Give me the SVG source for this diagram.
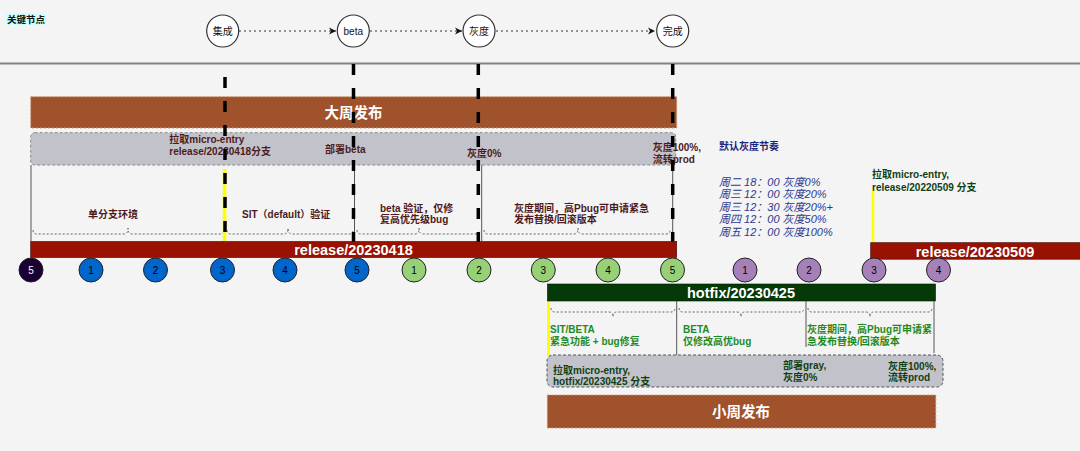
<svg xmlns="http://www.w3.org/2000/svg" width="1080" height="451" viewBox="0 0 1080 451">
<style>
text{font-family:"Liberation Sans","Noto Sans CJK SC",sans-serif}
.lbl{font-size:10px;font-weight:bold}
.mar{fill:#4d1a22}
.grn{fill:#1f8a1f}
.dgrn{fill:#0f3f12}
.wbig{fill:#fff;font-weight:bold;font-size:14.5px;text-anchor:middle}
.num{font-size:10px;text-anchor:middle}
.ital{font-size:11px;font-style:italic;fill:#2a3990}
.dash{stroke:#000;stroke-width:3.5;stroke-dasharray:11 13;fill:none}
.thin{stroke:#555;stroke-width:1;fill:none}
.brace{stroke:#666;stroke-width:1;stroke-dasharray:2 2;fill:none}
.gbox{fill:#c2c2ca;stroke:#8a8a8a;stroke-dasharray:3 2;stroke-width:1}
.brown{fill:#a0522d;stroke:#cf9a74;stroke-dasharray:2 2;stroke-width:1}
.cB{fill:#0066cc;stroke:#222;stroke-width:1}
.cG{fill:#97d077;stroke:#222;stroke-width:1}
.cP{fill:#a680b8;stroke:#222;stroke-width:1}
.top{fill:#fff;stroke:#333;stroke-width:1.2}
.arr{stroke:#333;stroke-width:1;stroke-dasharray:2 3;fill:none;marker-end:url(#ah)}
</style>
<defs>
<marker id="ah" markerWidth="8" markerHeight="8" refX="7" refY="4" orient="auto" markerUnits="userSpaceOnUse">
<path d="M0,0.5 L7,4 L0,7.5 L2,4 Z" fill="#111"/>
</marker>
</defs>
<rect x="0" y="0" width="1080" height="451" fill="#f4f4f4"/>
<line x1="0" y1="63.5" x2="1080" y2="63.5" stroke="#828282" stroke-width="2"/>

<g id="title">
<rect x="6" y="13" width="40" height="12" fill="#ccffff"/>
<text x="7" y="22.5" font-size="9.5" font-weight="bold" fill="#111">关键节点</text>
</g>

<g id="connectors">
<line class="arr" x1="239" y1="31" x2="336" y2="31"/>
<line class="arr" x1="370" y1="31" x2="462" y2="31"/>
<line class="arr" x1="496" y1="31" x2="655" y2="31"/>
</g>

<g id="top-nodes">
<g id="n-jicheng"><circle class="top" cx="222.7" cy="31" r="16"/><text x="222.7" y="34.5" font-size="10" text-anchor="middle" fill="#111">集成</text></g>
<g id="n-beta"><circle class="top" cx="353.3" cy="31" r="16"/><text x="353.3" y="34.5" font-size="10" text-anchor="middle" fill="#111">beta</text></g>
<g id="n-huidu"><circle class="top" cx="479" cy="31" r="16"/><text x="479" y="34.5" font-size="10" text-anchor="middle" fill="#111">灰度</text></g>
<g id="n-wancheng"><circle class="top" cx="672.7" cy="31" r="16"/><text x="672.7" y="34.5" font-size="10" text-anchor="middle" fill="#111">完成</text></g>
</g>

<g id="big-release">
<rect class="brown" x="30.7" y="96.7" width="646" height="31.3"/>
<text class="wbig" x="353.5" y="118" font-size="14">大周发布</text>
<rect class="gbox" x="30.7" y="132.7" width="645" height="32.3" rx="4"/>
<text class="lbl mar" x="169.3" y="143">拉取micro-entry</text>
<text class="lbl mar" x="169.3" y="155.3">release/20230418分支</text>
<text class="lbl mar" x="325" y="153">部署beta</text>
<text class="lbl mar" x="467" y="157">灰度0%</text>
<text class="lbl mar" x="652.7" y="151">灰度100%,</text>
<text class="lbl mar" x="652.7" y="162.5">流转prod</text>
<line class="thin" x1="31" y1="165" x2="31" y2="241"/>
<line class="thin" x1="354.5" y1="165" x2="354.5" y2="241"/>
<line class="thin" x1="481.7" y1="165" x2="481.7" y2="241"/>
<line class="thin" x1="672.7" y1="165" x2="672.7" y2="241"/>
<path class="brace" d="M33,230 Q33,234 37,234 L124,234 Q128,234 128,228 Q128,234 132,234 L220,234 Q224,234 224,230"/>
<path class="brace" d="M227,230 Q227,234 231,234 L284,234 Q288,234 288,228 Q288,234 292,234 L350,234 Q353,234 353,230"/>
<path class="brace" d="M357,230 Q357,234 361,234 L415,234 Q419,234 419,228 Q419,234 423,234 L476,234 Q480,234 480,230"/>
<path class="brace" d="M484,230 Q484,234 488,234 L574,234 Q578,234 578,228 Q578,234 582,234 L666,234 Q670,234 670,230"/>
<text class="lbl mar" x="113" y="217.5" text-anchor="middle">单分支环境</text>
<text class="lbl mar" x="242" y="217.5">SIT（default）验证</text>
<text class="lbl mar" x="380" y="211.5">beta 验证，仅修</text>
<text class="lbl mar" x="380" y="223">复高优先级bug</text>
<text class="lbl mar" x="514" y="211.5">灰度期间，高Pbug可申请紧急</text>
<text class="lbl mar" x="514" y="223">发布替换/回滚版本</text>
<line x1="224.5" y1="169" x2="224.5" y2="241" stroke="#ffff00" stroke-width="3.5"/>
</g>

<g id="dashed-markers">
<line class="dash" x1="225" y1="77" x2="225" y2="242"/>
<line class="dash" x1="353.5" y1="64" x2="353.5" y2="242"/>
<line class="dash" x1="478.3" y1="64" x2="478.3" y2="242"/>
<line class="dash" x1="672.7" y1="64" x2="672.7" y2="242"/>
</g>

<g id="release-20230418">
<rect x="30.7" y="241.5" width="646" height="16" fill="#991100" stroke="#3a0500" stroke-width="0.6"/>
<text class="wbig" x="353.5" y="254.5">release/20230418</text>
</g>

<g id="release-20230509">
<line x1="873" y1="188" x2="873" y2="243" stroke="#ffff00" stroke-width="2.5"/>
<text class="lbl dgrn" x="872" y="178">拉取micro-entry,</text>
<text class="lbl dgrn" x="872" y="190.5">release/20220509 分支</text>
<rect x="870.7" y="242.7" width="210" height="16.5" fill="#991100" stroke="#3a0500" stroke-width="0.6"/>
<text class="wbig" x="975" y="256.5">release/20230509</text>
</g>

<g id="gray-schedule">
<text x="719" y="149.5" font-size="10" font-weight="bold" fill="#1a237e">默认灰度节奏</text>
<text class="ital" x="719" y="185.5">周二 18：00 灰度0%</text>
<text class="ital" x="719" y="198">周三 12：00 灰度20%</text>
<text class="ital" x="719" y="210.5">周三 12：30 灰度20%+</text>
<text class="ital" x="719" y="223">周四 12：00 灰度50%</text>
<text class="ital" x="719" y="235.5">周五 12：00 灰度100%</text>
</g>

<g id="hotfix">
<line x1="548.5" y1="284" x2="548.5" y2="356" stroke="#ffff00" stroke-width="3"/>
<rect x="547.5" y="284" width="388" height="17" fill="#053a08" stroke="#021a03" stroke-width="0.6"/>
<text class="wbig" x="741" y="297.5">hotfix/20230425</text>
<line class="thin" x1="676.7" y1="301" x2="676.7" y2="355"/>
<line class="thin" x1="806" y1="301" x2="806" y2="347"/>
<line class="thin" x1="934" y1="301" x2="934" y2="353"/>
<path class="brace" d="M551,308 Q551,312 555,312 L609,312 Q613,312 613,317 Q613,312 617,312 L671,312 Q675,312 675,308"/>
<path class="brace" d="M679,308 Q679,312 683,312 L737,312 Q741,312 741,317 Q741,312 745,312 L800,312 Q804,312 804,308"/>
<path class="brace" d="M808,308 Q808,312 812,312 L866,312 Q870,312 870,317 Q870,312 874,312 L928,312 Q932,312 932,308"/>
<text class="lbl grn" x="550" y="332.5">SIT/BETA</text>
<text class="lbl grn" x="550" y="344.5">紧急功能 + bug修复</text>
<text class="lbl grn" x="683" y="332.5">BETA</text>
<text class="lbl grn" x="683" y="344.5">仅修改高优bug</text>
<text class="lbl grn" x="807" y="332.5">灰度期间，高Pbug可申请紧</text>
<text class="lbl grn" x="807" y="344.5">急发布替换/回滚版本</text>
<rect x="547" y="355" width="396" height="32" rx="6" fill="#c2c2ca" stroke="#555" stroke-dasharray="3 2" stroke-width="1"/>
<text class="lbl dgrn" x="553" y="373.5">拉取micro-entry,</text>
<text class="lbl dgrn" x="553" y="384.5">hotfix/20230425 分支</text>
<text class="lbl dgrn" x="783" y="369">部署gray,</text>
<text class="lbl dgrn" x="783" y="380.5">灰度0%</text>
<text class="lbl dgrn" x="888" y="369.5">灰度100%,</text>
<text class="lbl dgrn" x="888" y="380.5">流转prod</text>
<rect class="brown" x="547.3" y="395" width="388.5" height="33"/>
<text class="wbig" x="741" y="417" font-size="14.5">小周发布</text>
</g>

<g id="steps">
<g id="s0"><circle cx="31" cy="270" r="12" fill="#1a0033" stroke="#222"/><text class="num" x="31" y="273.5" fill="#fff">5</text></g>
<g id="b1"><circle class="cB" cx="91" cy="270" r="12"/><text class="num" x="91" y="273.5">1</text></g>
<g id="b2"><circle class="cB" cx="155.5" cy="270" r="12"/><text class="num" x="155.5" y="273.5">2</text></g>
<g id="b3"><circle class="cB" cx="222.5" cy="270" r="12"/><text class="num" x="222.5" y="273.5">3</text></g>
<g id="b4"><circle class="cB" cx="285" cy="270" r="12"/><text class="num" x="285" y="273.5">4</text></g>
<g id="b5"><circle class="cB" cx="357" cy="270" r="12"/><text class="num" x="357" y="273.5">5</text></g>
<g id="g1"><circle class="cG" cx="414" cy="270" r="12"/><text class="num" x="414" y="273.5">1</text></g>
<g id="g2"><circle class="cG" cx="479" cy="270" r="12"/><text class="num" x="479" y="273.5">2</text></g>
<g id="g3"><circle class="cG" cx="543.3" cy="270" r="12"/><text class="num" x="543.3" y="273.5">3</text></g>
<g id="g4"><circle class="cG" cx="608" cy="270" r="12"/><text class="num" x="608" y="273.5">4</text></g>
<g id="g5"><circle class="cG" cx="672.5" cy="270" r="12"/><text class="num" x="672.5" y="273.5">5</text></g>
<g id="p1"><circle class="cP" cx="745" cy="270" r="12"/><text class="num" x="745" y="273.5">1</text></g>
<g id="p2"><circle class="cP" cx="809" cy="270" r="12"/><text class="num" x="809" y="273.5">2</text></g>
<g id="p3"><circle class="cP" cx="874" cy="270" r="12"/><text class="num" x="874" y="273.5">3</text></g>
<g id="p4"><circle class="cP" cx="938.5" cy="270" r="12"/><text class="num" x="938.5" y="273.5">4</text></g>
</g>
</svg>
